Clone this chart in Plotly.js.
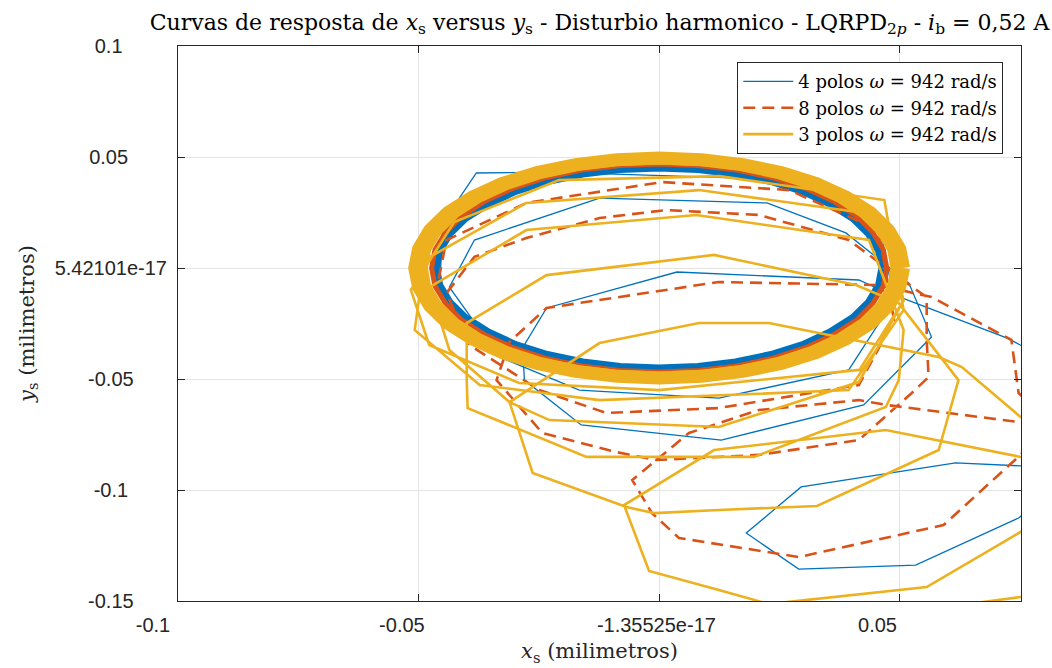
<!DOCTYPE html>
<html>
<head>
<meta charset="utf-8">
<script src="https://cdn.plot.ly/plotly-3.0.1.min.js"></script>
<style>html,body{margin:0;padding:0;background:#fff;}#chart{width:1052px;height:668px;}</style>
</head>
<body>
<div id="chart"></div>
<script>
// ---- tick values / labels ----
const xTickVals = [-0.1, -0.05, 0, 0.05];
const xTickText = ['-0.1', '-0.05', '-1.35525e-17', '0.05'];
const yTickVals = [-0.15, -0.1, -0.05, 0, 0.05, 0.1];
const yTickText = ['-0.15', '-0.1', '-0.05', '5.42101e-17', '0.05', '0.1'];

// ---- series names ----
const seriesNames = ['4 polos <i>ω</i> = 942 rad/s', '8 polos <i>ω</i> = 942 rad/s', '3 polos <i>ω</i> = 942 rad/s'];

// ---- 4 polos (transient) ----
const blueX = [0.0913,0.0851,0.0616,0.0295,0.0181,0.0290,0.0533,0.0747,0.0851,0.0851,0.0722,0.0461,0.0415,0.0037,-0.0234,-0.0284,-0.0280,-0.0162,0.0129,0.0425,0.0566,0.0519,0.0388,0.0224,-0.0124,-0.0384,-0.0436,-0.0332,-0.0166,0.0124,0.0394,0.0488,0.0456,0.0290,-0.0222,-0.0380,-0.0450,-0.0456];
const blueY = [-0.1676,-0.0901,-0.0878,-0.0986,-0.1194,-0.1356,-0.1338,-0.1126,-0.0955,-0.0459,-0.0315,-0.0099,-0.0054,-0.0018,-0.0180,-0.0360,-0.0505,-0.0707,-0.0775,-0.0617,-0.0311,-0.0068,0.0158,0.0293,0.0315,0.0126,-0.0086,-0.0401,-0.0550,-0.0586,-0.0459,-0.0144,0.0216,0.0396,0.0432,0.0428,0.0203,-0.0099];

// ---- 8 polos (transient) ----
const redX = [0.0913,0.0851,0.0747,0.0473,0.0415,0.0207,0.0062,-0.0056,-0.0015,0.0041,0.0290,0.0591,0.0751,0.0809,0.0747,0.0732,0.0566,0.0456,0.0124,-0.0234,-0.0311,-0.0338,-0.0243,-0.0089,-0.0006,0.0207,0.0415,0.0525,0.0560,0.0556,0.0556,0.0535,0.0394,0.0207,0.0015,-0.0124,-0.0276,-0.0384,-0.0442,-0.0394,-0.0249,-0.0110,0.0124,0.0415,0.0488,0.0456,0.0270,0.0006,-0.0276,-0.0442,-0.0463];
const redY = [-0.1586,-0.0730,-0.0694,-0.0617,-0.0595,-0.0640,-0.0743,-0.0955,-0.1104,-0.1216,-0.1302,-0.1158,-0.0842,-0.0685,-0.0563,-0.0324,-0.0131,-0.0077,-0.0063,-0.0180,-0.0333,-0.0505,-0.0743,-0.0829,-0.0865,-0.0842,-0.0775,-0.0563,-0.0491,-0.0324,-0.0131,-0.0099,0.0126,0.0239,0.0261,0.0225,0.0135,0.0050,-0.0113,-0.0347,-0.0550,-0.0653,-0.0631,-0.0527,-0.0234,0.0171,0.0351,0.0387,0.0293,0.0126,-0.0099];

// ---- 3 polos (transient) ----
const orangeX = [0.0498,0.0627,0.0751,0.0871,0.0871,0.0751,0.0471,0.0114,-0.0073,-0.0021,0.0124,0.0214,0.0241,0.0266,0.0556,0.0751,0.0871,0.0871,0.0751,0.0629,0.0581,0.0228,0.0083,-0.0124,-0.0311,-0.0263,-0.0068,-0.0010,0.0124,0.0328,0.0581,0.0622,0.0498,0.0409,0.0114,-0.0234,-0.0400,-0.0400,-0.0398,-0.0151,0.0124,0.0197,0.0471,0.0498,0.0508,0.0436,0.0077,-0.0276,-0.0477,-0.0436,-0.0311,-0.0228,0.0124,0.0415,0.0508,0.0456,0.0083,-0.0276,-0.0488,-0.0508,-0.0373,-0.0124,0.0394,0.0508,0.0468,0.0125,-0.0208,-0.0426,-0.0516,-0.0478,-0.0291,0,0.0416,0.0509];
const orangeY = [-0.1766,-0.1518,-0.1482,-0.1428,-0.0910,-0.0851,-0.0730,-0.0820,-0.1068,-0.1365,-0.1450,-0.1505,-0.1541,-0.1505,-0.1437,-0.1189,-0.1000,-0.0775,-0.0671,-0.0446,-0.0401,-0.0248,-0.0248,-0.0338,-0.0604,-0.0923,-0.1077,-0.1104,-0.1090,-0.1072,-0.0820,-0.0505,-0.0158,-0.0077,0.0059,-0.0032,-0.0248,-0.0505,-0.0631,-0.0851,-0.0851,-0.0851,-0.0626,-0.0505,-0.0279,0.0126,0.0239,0.0171,-0.0086,-0.0369,-0.0604,-0.0685,-0.0716,-0.0514,-0.0144,0.0239,0.0351,0.0293,0.0036,-0.0279,-0.0527,-0.0595,-0.0550,-0.0189,0.0306,0.0414,0.0396,0.0207,-0.0099,-0.0347,-0.0518,-0.0550,-0.0459,-0.0144];

// ---- steady-state orbits ----
const ringBlueX = [0.0465,0.0458,0.0437,0.0403,0.0356,0.0299,0.0233,0.0159,0.0081,0,-0.0081,-0.0159,-0.0233,-0.0299,-0.0356,-0.0403,-0.0437,-0.0458,-0.0465,-0.0458,-0.0437,-0.0403,-0.0356,-0.0299,-0.0233,-0.0159,-0.0081,0,0.0081,0.0159,0.0233,0.0299,0.0356,0.0403,0.0437,0.0458,0.0465];
const ringBlueY = [0,0.0079,0.0156,0.0228,0.0292,0.0349,0.0394,0.0428,0.0448,0.0455,0.0448,0.0428,0.0394,0.0349,0.0292,0.0228,0.0156,0.0079,0,-0.0079,-0.0156,-0.0228,-0.0292,-0.0349,-0.0394,-0.0428,-0.0448,-0.0455,-0.0448,-0.0428,-0.0394,-0.0349,-0.0292,-0.0228,-0.0156,-0.0079,0];
const ringRedX = [0.0473,0.0466,0.0444,0.0410,0.0362,0.0304,0.0237,0.0162,0.0082,0,-0.0082,-0.0162,-0.0237,-0.0304,-0.0362,-0.0410,-0.0444,-0.0466,-0.0473,-0.0466,-0.0444,-0.0410,-0.0362,-0.0304,-0.0237,-0.0162,-0.0082,0,0.0082,0.0162,0.0237,0.0304,0.0362,0.0410,0.0444,0.0466,0.0473];
const ringRedY = [0,0.0081,0.0160,0.0235,0.0301,0.0359,0.0406,0.0441,0.0462,0.0469,0.0462,0.0441,0.0406,0.0359,0.0301,0.0235,0.0160,0.0081,0,-0.0081,-0.0160,-0.0235,-0.0301,-0.0359,-0.0406,-0.0441,-0.0462,-0.0469,-0.0462,-0.0441,-0.0406,-0.0359,-0.0301,-0.0235,-0.0160,-0.0081,0];
const ringOrangeInX = [0.0490,0.0483,0.0460,0.0424,0.0375,0.0315,0.0245,0.0168,0.0085,0,-0.0085,-0.0168,-0.0245,-0.0315,-0.0375,-0.0424,-0.0460,-0.0483,-0.0490,-0.0483,-0.0460,-0.0424,-0.0375,-0.0315,-0.0245,-0.0168,-0.0085,0,0.0085,0.0168,0.0245,0.0315,0.0375,0.0424,0.0460,0.0483,0.0490];
const ringOrangeInY = [0,0.0085,0.0167,0.0244,0.0313,0.0373,0.0422,0.0458,0.0480,0.0487,0.0480,0.0458,0.0422,0.0373,0.0313,0.0244,0.0167,0.0085,0,-0.0085,-0.0167,-0.0244,-0.0313,-0.0373,-0.0422,-0.0458,-0.0480,-0.0487,-0.0480,-0.0458,-0.0422,-0.0373,-0.0313,-0.0244,-0.0167,-0.0085,0];
const ringOrangeOutX = [0.0508,0.0500,0.0477,0.0440,0.0389,0.0327,0.0254,0.0174,0.0088,0,-0.0088,-0.0174,-0.0254,-0.0327,-0.0389,-0.0440,-0.0477,-0.0500,-0.0508,-0.0500,-0.0477,-0.0440,-0.0389,-0.0327,-0.0254,-0.0174,-0.0088,0,0.0088,0.0174,0.0254,0.0327,0.0389,0.0440,0.0477,0.0500,0.0508];
const ringOrangeOutY = [0,0.0086,0.0170,0.0248,0.0319,0.0380,0.0430,0.0466,0.0488,0.0496,0.0488,0.0466,0.0430,0.0380,0.0319,0.0248,0.0170,0.0086,0,-0.0086,-0.0170,-0.0248,-0.0319,-0.0380,-0.0430,-0.0466,-0.0488,-0.0496,-0.0488,-0.0466,-0.0430,-0.0380,-0.0319,-0.0248,-0.0170,-0.0086,0];

// ---- styling ----
const BLUE = '#0072BD', RED = '#D95319', ORANGE = '#EDB120', AX = '#262626';
const NB = '\u00a0';

// centre the y tick labels (as in the reference) by right-padding with no-break spaces
const cw = {'0':.556,'1':.556,'2':.556,'3':.556,'4':.556,'5':.556,'6':.556,'7':.556,'8':.556,'9':.556,'.':.278,'-':.333,'e':.556};
const wOf = s => s.split('').reduce((a,c)=>a+(cw[c]||.556),0);
const wMax = Math.max(...yTickText.map(wOf));
const yTickPadded = yTickText.map(t => t + NB.repeat(Math.round((wMax - wOf(t)) / 2 / 0.278)));
// the reference's x tick labels sit slightly left of their ticks
const xLabelShift = [9, 6, 1, 8];
const xTickPadded = xTickText.map((t, i) => t + NB.repeat(xLabelShift[i]));

const traces = [
  {x: blueX, y: blueY, name: seriesNames[0], mode: 'lines', line: {color: BLUE, width: 1.3}, legendgroup: 'b'},
  {x: ringBlueX, y: ringBlueY, mode: 'lines', line: {color: BLUE, width: 9}, showlegend: false, legendgroup: 'b', hoverinfo: 'skip'},
  {x: redX, y: redY, name: seriesNames[1], mode: 'lines', line: {color: RED, width: 2.6, dash: '12px,7px'}, legendgroup: 'r'},
  {x: ringRedX, y: ringRedY, mode: 'lines', line: {color: RED, width: 5}, showlegend: false, legendgroup: 'r', hoverinfo: 'skip'},
  {x: orangeX, y: orangeY, name: seriesNames[2], mode: 'lines', line: {color: ORANGE, width: 2.6}, legendgroup: 'o'},
  {x: ringOrangeInX, y: ringOrangeInY, mode: 'lines', line: {color: ORANGE, width: 9}, showlegend: false, legendgroup: 'o', hoverinfo: 'skip'},
  {x: ringOrangeOutX, y: ringOrangeOutY, mode: 'lines', line: {color: ORANGE, width: 13}, showlegend: false, legendgroup: 'o', hoverinfo: 'skip'}
];

const tickFont = {family: 'Liberation Sans, Arial, sans-serif', size: 20, color: AX};
const serif = 'DejaVu Serif, serif';

const layout = {
  width: 1052, height: 668,
  margin: {l: 178, r: 31, t: 46, b: 67},
  paper_bgcolor: '#fff', plot_bgcolor: '#fff',
  title: {
    text: 'Curvas de resposta de <i>x</i><sub>s</sub> versus <i>y</i><sub>s</sub> - Disturbio harmonico - LQRPD<sub>2<i>p</i></sub> - <i>i</i><sub>b</sub> = 0,52 A',
    font: {family: serif, size: 22, color: '#000'},
    x: 0.5, xref: 'paper', xanchor: 'center',
    y: 1 - 22/668, yref: 'container', yanchor: 'middle'
  },
  xaxis: {
    range: [-0.1, 0.0752], tickvals: xTickVals, ticktext: xTickPadded,
    showgrid: true, gridcolor: '#e4e4e4', gridwidth: 1, zeroline: false,
    ticks: 'inside', ticklen: 7, tickcolor: AX, tickwidth: 1,
    showline: true, linecolor: AX, linewidth: 1, mirror: 'ticks',
    tickfont: tickFont, ticklabelstandoff: 6,
    title: {text: '<i>x</i><sub>s</sub> (milimetros)', font: {family: serif, size: 21, color: AX}, standoff: 8}
  },
  yaxis: {
    range: [-0.15, 0.1], tickvals: yTickVals, ticktext: yTickPadded,
    showgrid: true, gridcolor: '#e4e4e4', gridwidth: 1, zeroline: false,
    ticks: 'inside', ticklen: 7, tickcolor: AX, tickwidth: 1,
    showline: true, linecolor: AX, linewidth: 1, mirror: 'ticks',
    tickfont: tickFont, ticklabelstandoff: 6,
    title: {text: '<i>y</i><sub>s</sub> (milimetros)', font: {family: serif, size: 21, color: AX}, standoff: 14}
  },
  showlegend: true,
  legend: {
    x: 0.979, xanchor: 'right', y: 0.971, yanchor: 'top',
    bgcolor: '#fff', bordercolor: AX, borderwidth: 1,
    font: {family: serif, size: 18, color: '#000'},
    itemwidth: 50, tracegroupgap: 0
  }
};

Plotly.newPlot('chart', traces, layout, {displayModeBar: false, staticPlot: true});
</script>
</body>
</html>
